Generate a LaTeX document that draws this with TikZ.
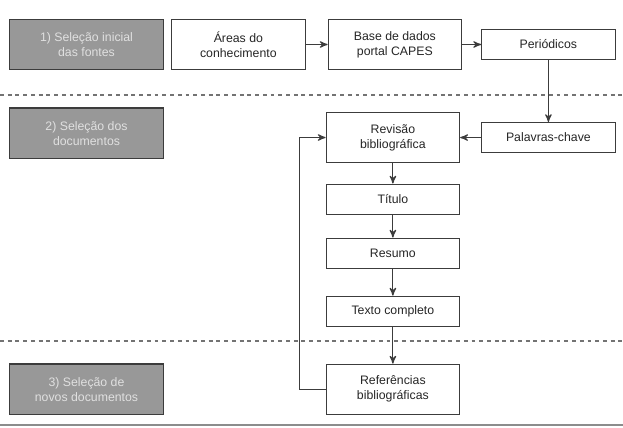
\documentclass[tikz,border=0pt]{standalone}
\usepackage{fontspec}
\setmainfont{Liberation Sans}
\usepackage{tikz}
\usetikzlibrary{arrows, positioning}
\definecolor{phasegray}{HTML}{989898}
\definecolor{edgegray}{HTML}{3C3C3C}
\tikzset{ % global config
    >=stealth', % small solid arrow heads
    x=0.02cm, y=-0.02cm, % one unit is one pixel of the sketch
    every node/.style={font=\fontsize{7}{8.5}\selectfont, align=center, inner sep=0pt},
    phase/.style={draw=edgegray, fill=phasegray, text=white!88!black, line width=0.7pt, minimum width=3.08cm, minimum height=1.01cm}, % grey stage boxes on the left
    box/.style={draw=edgegray, fill=white, text=black!85, line width=0.6pt, minimum width=2.67cm, minimum height=1.0cm}, % two-line step
    smallbox/.style={box, minimum height=0.6cm}, % one-line step
    flow/.style={->, draw=edgegray, line width=0.65pt},
    split/.style={draw=black!55, dashed, dash pattern=on 2.2pt off 2.2pt, line width=0.6pt},
}

\begin{document}
\begin{tikzpicture}

		\useasboundingbox (0,0) rectangle (623,428);

		\node[phase] (f1) at (86.5,44.5) {1) Seleção inicial\\das fontes};
		\node[box, right=0.14cm of f1] (areas) {Áreas do\\conhecimento};
		\node[box, right=0.44cm of areas] (base) {Base de dados\\portal CAPES};
		\node[smallbox, right=0.38cm of base] (period) {Periódicos};
		\node[phase, below=0.74cm of f1] (f2) {2) Seleção dos\\documentos};
		\node[smallbox, below=1.24cm of period] (palavras) {Palavras-chave};
		\node[box, left=0.42cm of palavras] (revisao) {Revisão\\bibliográfica};
		\node[smallbox, below=0.41cm of revisao] (titulo) {Título};
		\node[smallbox, below=0.46cm of titulo] (resumo) {Resumo};
		\node[smallbox, below=0.54cm of resumo] (texto) {Texto completo};
		\node[box, below=0.74cm of texto] (refs) {Referências\\bibliográficas};
		\node[phase] (f3) at (f1 |- refs) {3) Seleção de\\novos documentos};

		% separators between the stages
		\draw[split] (0,95) -- (623,95);
		\draw[split] (0,341) -- (623,341);
		\draw[black!45, line width=1.6pt] (0,425) -- (623,425);

		\draw[flow] (areas) -- (base);
		\draw[flow] (base) -- (period);
		\draw[flow] (period) -- (palavras);
		\draw[flow] (palavras) -- (revisao);
		\draw[flow] (revisao) -- (titulo);
		\draw[flow] (titulo) -- (resumo);
		\draw[flow] (resumo) -- (texto);
		\draw[flow] (texto) -- (refs);
		\draw[flow] (refs.west) -- ++(-26,0) |- (revisao.west);

	\end{tikzpicture}
\end{document}
